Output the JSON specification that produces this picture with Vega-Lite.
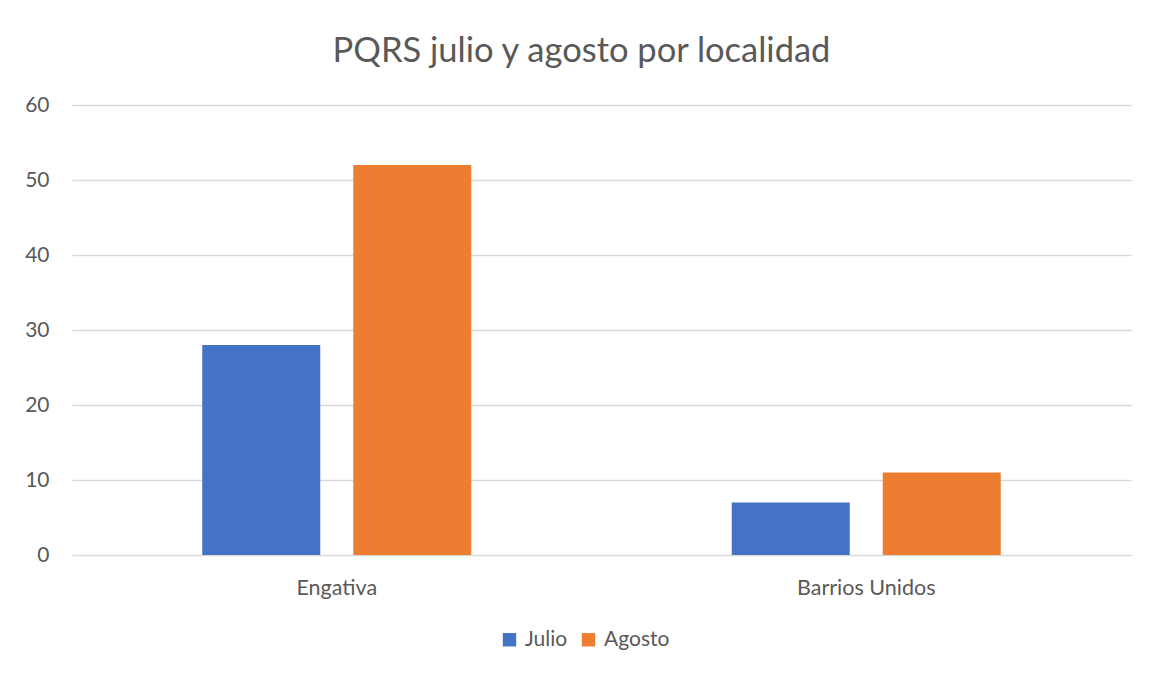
{
  "$schema": "https://vega.github.io/schema/vega-lite/v6.json",
  "width": 1059,
  "height": 450,
  "autosize": {"type": "none"},
  "padding": {"left": 72, "top": 105, "right": 18, "bottom": 120},
  "background": "white",
  "title": {
    "text": "PQRS julio y agosto por localidad",
    "font": "Lato",
    "fontSize": 34.5,
    "fontWeight": "normal",
    "color": "#595959",
    "anchor": "middle",
    "baseline": "alphabetic",
    "offset": -2,
    "dx": -20
  },
  "data": {
    "values": [
      {"localidad": "Engativa", "mes": "Julio", "valor": 28},
      {"localidad": "Engativa", "mes": "Agosto", "valor": 52},
      {"localidad": "Barrios Unidos", "mes": "Julio", "valor": 7},
      {"localidad": "Barrios Unidos", "mes": "Agosto", "valor": 11}
    ]
  },
  "mark": {"type": "bar"},
  "encoding": {
    "x": {
      "field": "localidad",
      "type": "nominal",
      "sort": ["Engativa", "Barrios Unidos"],
      "scale": {"paddingInner": 0, "paddingOuter": 0},
      "axis": {
        "title": null,
        "labelAngle": 0,
        "ticks": false,
        "domain": false,
        "labelFont": "Lato",
        "labelFontSize": 21.5,
        "labelColor": "#595959",
        "labelPadding": 22
      }
    },
    "xOffset": {
      "field": "mes",
      "type": "nominal",
      "sort": ["Julio", "Agosto"],
      "scale": {"paddingInner": 0.2185, "paddingOuter": 0.8625}
    },
    "y": {
      "field": "valor",
      "type": "quantitative",
      "scale": {"domain": [0, 60]},
      "axis": {
        "title": null,
        "values": [0, 10, 20, 30, 40, 50, 60],
        "ticks": false,
        "domain": false,
        "grid": true,
        "gridColor": "#D9D9D9",
        "gridWidth": 1.3,
        "labelFont": "Lato",
        "labelFontSize": 21,
        "labelColor": "#595959",
        "labelPadding": 23
      }
    },
    "color": {
      "field": "mes",
      "type": "nominal",
      "sort": ["Julio", "Agosto"],
      "scale": {"domain": ["Julio", "Agosto"], "range": ["#4472C4", "#ED7D31"]},
      "legend": {
        "title": null,
        "orient": "none",
        "legendX": 427,
        "legendY": 524,
        "direction": "horizontal",
        "symbolType": "square",
        "symbolSize": 180,
        "symbolStrokeWidth": 0,
        "labelFont": "Lato",
        "labelFontSize": 21,
        "labelColor": "#595959",
        "labelOffset": 5,
        "columnPadding": 10
      }
    }
  },
  "config": {
    "view": {"stroke": null}
  }
}
